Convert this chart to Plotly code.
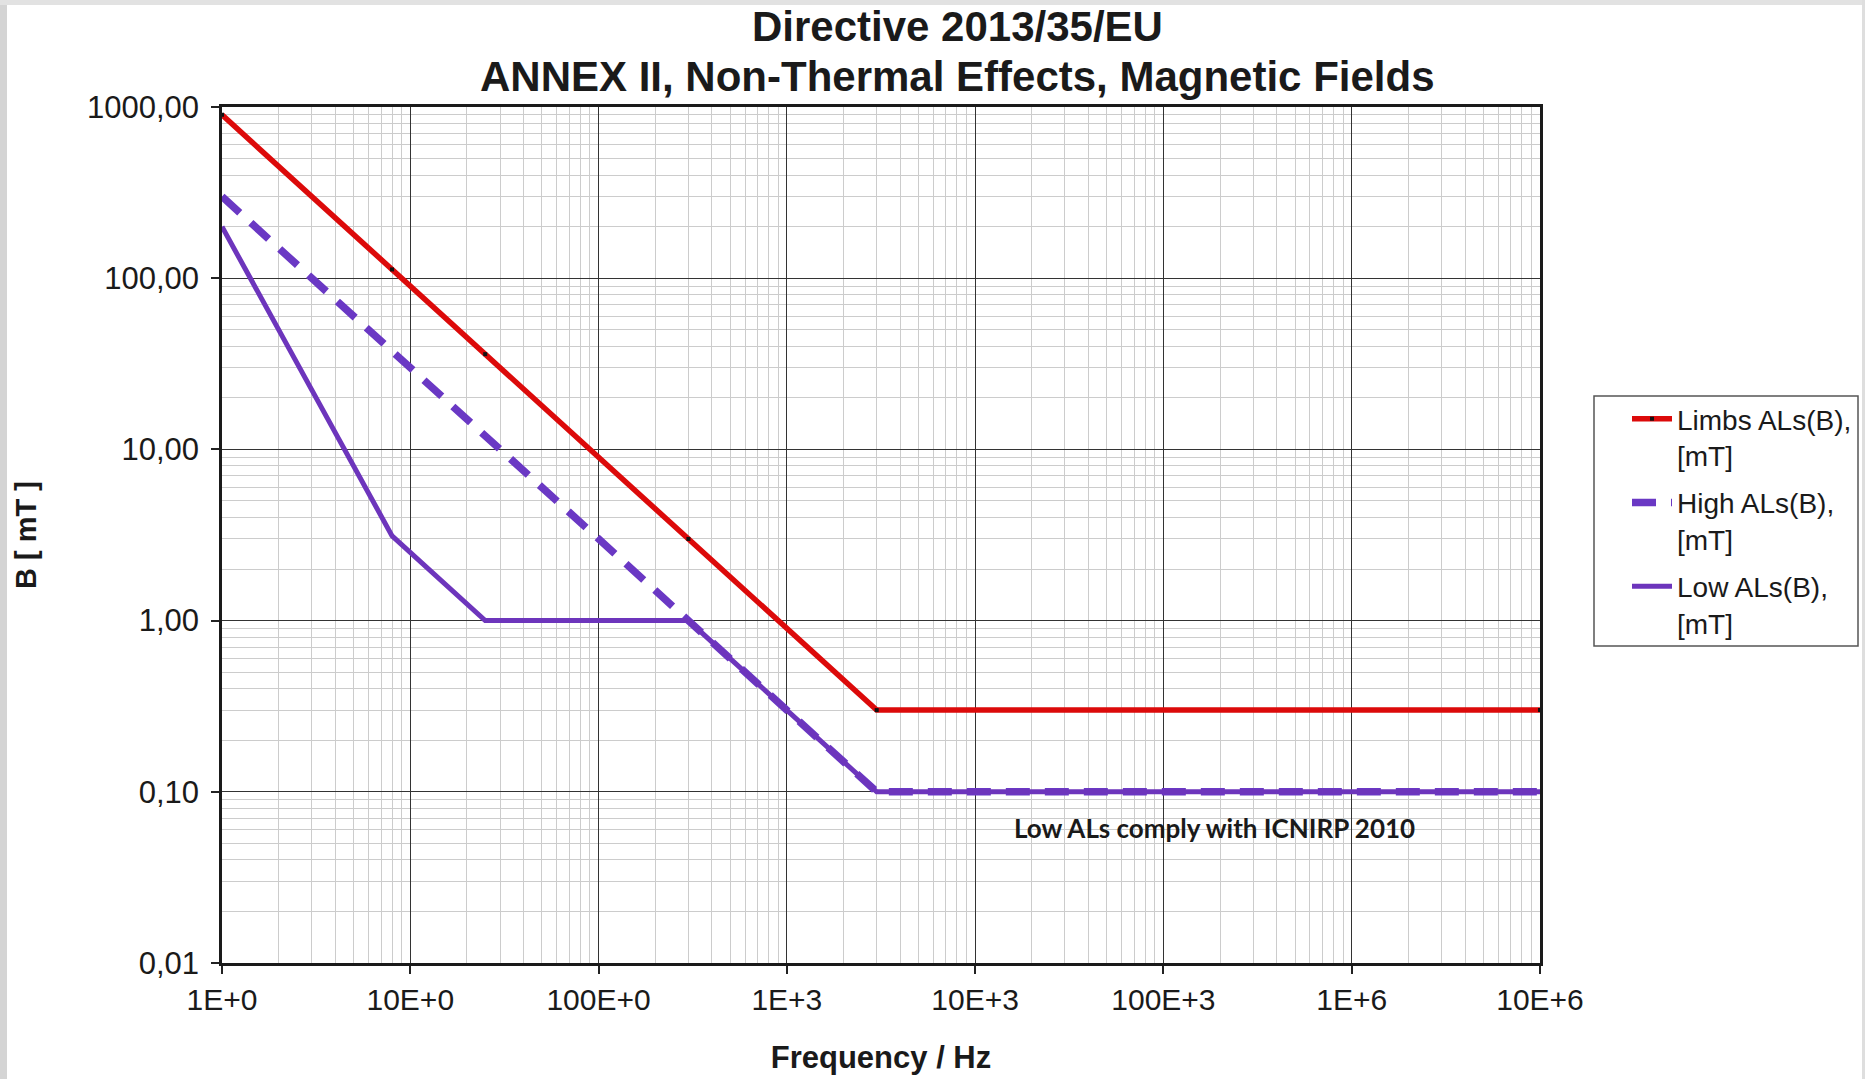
import plotly.graph_objects as go

# ---- data ----
freq_hz = [1, 8, 25, 300, 3000, 1e7]
limbs_mT = [900, 112.5, 36, 3, 0.3, 0.3]
high_mT = [300, 37.5, 12, 1, 0.1, 0.1]
low_mT = [200, 3.125, 1, 1, 0.1, 0.1]

x_tickvals = [1, 10, 100, 1e3, 1e4, 1e5, 1e6, 1e7]
x_ticktext = ["1E+0", "10E+0", "100E+0", "1E+3", "10E+3", "100E+3", "1E+6", "10E+6"]
y_tickvals = [1000, 100, 10, 1, 0.1, 0.01]
y_ticktext = ["1000,00", "100,00", "10,00", "1,00", "0,10", "0,01"]

W, H = 1865, 1079
L, R, T, B = 222, 1540, 107, 963


def px(x):
    return (x - L) / (R - L)


def py(y):
    return (B - y) / (B - T)


FONT = "Liberation Sans, Arial, sans-serif"

fig = go.Figure()
fig.add_trace(go.Scatter(
    x=freq_hz, y=limbs_mT, mode="lines+markers", name="Limbs ALs(B),<br>[mT]", legendgroup="a",
    line=dict(color="#dc0a0a", width=5.5),
    marker=dict(symbol="square", size=4, color="#111111"),
))
fig.add_trace(go.Scatter(
    x=freq_hz, y=high_mT, mode="lines", name="High ALs(B),<br>[mT]", legendgroup="b",
    line=dict(color="#6a38c4", width=7.5, dash="24px,15px"),
))
fig.add_trace(go.Scatter(
    x=freq_hz, y=low_mT, mode="lines", name="Low ALs(B),<br>[mT]", legendgroup="c",
    line=dict(color="#6d35bc", width=5),
))

axis_common = dict(
    type="log", showline=True, mirror=True, linecolor="#1a1a1a", linewidth=2.5,
    showgrid=True, gridcolor="#333333", gridwidth=1.2,
    ticks="outside", ticklen=8, tickcolor="#222222", tickwidth=1.5,
    zeroline=False,
    minor=dict(dtick="D1", showgrid=True, gridcolor="#cccccc", gridwidth=1, ticks=""),
)

fig.update_xaxes(
    **axis_common, range=[0, 7], tickmode="array", tickvals=x_tickvals, ticktext=x_ticktext,
    tickfont=dict(family=FONT, size=30, color="#1a1a1a"),
    title=dict(text="<b>Frequency / Hz</b>", font=dict(family=FONT, size=31, color="#1a1a1a"), standoff=32),
)
fig.update_yaxes(
    **axis_common, range=[-2, 3], tickmode="array", tickvals=y_tickvals, ticktext=y_ticktext,
    tickfont=dict(family=FONT, size=31, color="#1a1a1a"), ticklabelstandoff=6,
    title=dict(text="<b>B [ mT ]</b>", font=dict(family=FONT, size=29, color="#1a1a1a"), standoff=42),
)

annotations = [
    dict(text="<b>Directive 2013/35/EU</b>", x=px(957), y=py(26), xref="paper", yref="paper",
         showarrow=False, font=dict(family=FONT, size=42, color="#1a1a1a"), xanchor="center", yanchor="middle"),
    dict(text="<b>ANNEX II, Non-Thermal Effects, Magnetic Fields</b>", x=px(957), y=py(77), xref="paper", yref="paper",
         showarrow=False, font=dict(family=FONT, size=42, color="#1a1a1a"), xanchor="center", yanchor="middle"),
    dict(text="<b>Low ALs comply with ICNIRP 2010</b>", x=px(1214), y=py(828), xref="paper", yref="paper",
         showarrow=False, font=dict(family="Lato, Open Sans, sans-serif", size=26, color="#1a1a1a"),
         xanchor="center", yanchor="middle"),
]

shapes = [
    # legend frame
    dict(type="rect", xref="paper", yref="paper", x0=px(1594), x1=px(1858), y0=py(646), y1=py(396),
         line=dict(color="#555555", width=1.5), fillcolor="rgba(0,0,0,0)"),
    # screenshot edge strips
    dict(type="rect", xref="paper", yref="paper", x0=px(0), x1=px(7), y0=py(H), y1=py(0),
         line=dict(width=0), fillcolor="#d4d4d4", layer="above"),
    dict(type="rect", xref="paper", yref="paper", x0=px(0), x1=px(W), y0=py(5), y1=py(0),
         line=dict(width=0), fillcolor="#e2e2e2", layer="above"),
    dict(type="rect", xref="paper", yref="paper", x0=px(W - 3), x1=px(W), y0=py(H), y1=py(0),
         line=dict(width=0), fillcolor="#dedede", layer="above"),
]

fig.update_layout(
    width=W, height=H, autosize=False,
    margin=dict(l=L, r=W - R, t=T, b=H - B, autoexpand=False),
    paper_bgcolor="white", plot_bgcolor="white",
    showlegend=True,
    legend=dict(
        x=px(1627), y=py(394), xanchor="left", yanchor="top",
        font=dict(family=FONT, size=28, color="#1a1a1a"),
        bgcolor="rgba(0,0,0,0)", borderwidth=0, valign="top",
        itemwidth=40, tracegroupgap=8,
    ),
    annotations=annotations, shapes=shapes,
)

fig.write_html("out.html")
